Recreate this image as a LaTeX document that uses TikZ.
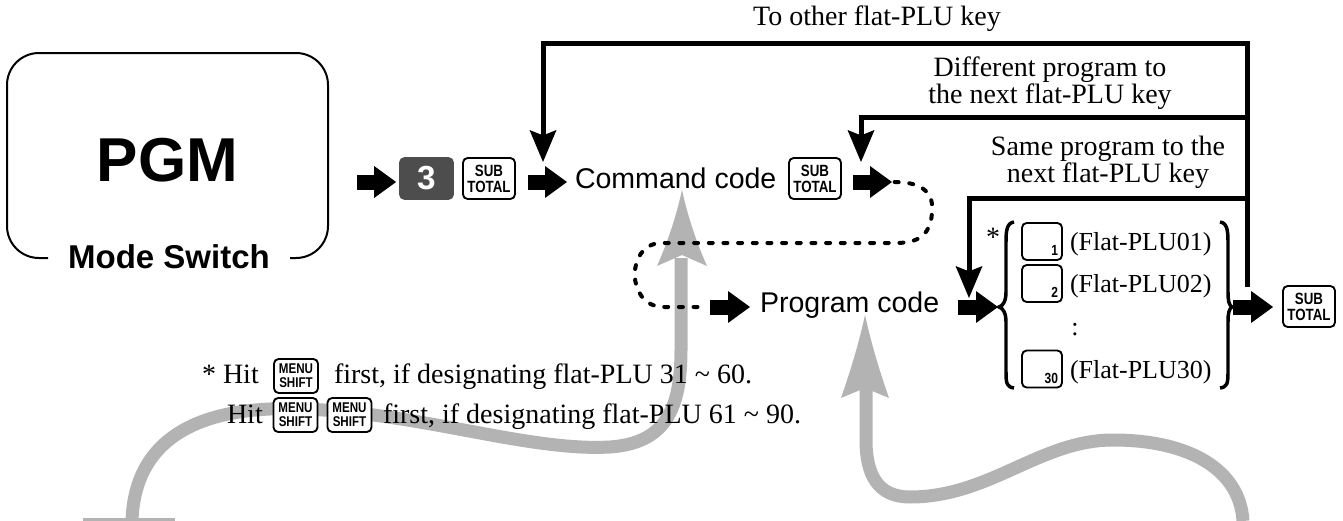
\documentclass[tikz,border=0pt]{standalone}
\usepackage{fontspec}
\setmainfont{Liberation Serif}
\setsansfont{Liberation Sans}
\newfontfamily\keyfont{Liberation Sans}[FakeStretch=0.82]
\usetikzlibrary{arrows.meta}
\definecolor{curvegray}{RGB}{179,179,179}
\definecolor{keydark}{RGB}{77,77,77}
\begin{document}
\begin{tikzpicture}[x=0.75pt,y=-0.75pt,
  txt/.style={inner sep=0pt, outer sep=0pt},
  serif/.style={txt, font=\rmfamily\fontsize{21pt}{25pt}\selectfont},
  plu/.style={txt, font=\rmfamily\fontsize{19.5pt}{23pt}\selectfont},
  arial/.style={txt, font=\sffamily\fontsize{21.4pt}{25pt}\selectfont},
  keybox/.style={draw, line width=1.4pt, rounded corners=3.5pt, fill=white, inner sep=0pt, align=center},
  subkey/.style={keybox, minimum width=39pt, minimum height=30.75pt, font=\keyfont\bfseries\fontsize{12.2pt}{12pt}\selectfont},
  menukey/.style={keybox, minimum width=33pt, minimum height=25.5pt, font=\keyfont\bfseries\fontsize{10.6pt}{10.5pt}\selectfont},
  plukey/.style={keybox, minimum width=30pt, minimum height=27.75pt},
  digit/.style={txt, font=\keyfont\bfseries\fontsize{11pt}{11pt}\selectfont},
  blk/.style={line width=11.25pt, -{Triangle[length=16.5pt,width=24pt,line width=0pt]}},
  conn/.style={line width=3.75pt, -{Stealth[length=24pt,width=20.25pt,inset=4pt,line width=0pt]}},
  dsh/.style={line width=3pt, line cap=round, dash pattern=on 3pt off 8pt},
  graycurve/.style={line width=9.75pt, draw=curvegray},
  bracestyle/.style={line width=2.6pt}
]
\useasboundingbox (0,0) rectangle (1343,521);

% gray callout curves (behind everything)
\draw[graycurve] (132,521) .. controls (134,452) and (180,413) .. (270,409) .. controls (400,405) and (520,452) .. (610,447) .. controls (665,443) and (681,410) .. (681,350) -- (681,258);
\fill[curvegray] (682,190) .. controls (689,222) and (699,248) .. (707,266) -- (682,255) -- (657,266) .. controls (665,248) and (675,222) .. (682,190) -- cycle;
\draw[graycurve] (1243,521) .. controls (1240,470) and (1190,440) .. (1113,440) .. controls (1040,440) and (990,497) .. (910,497) .. controls (878,497) and (866,475) .. (866,440) -- (866,388);
\fill[curvegray] (865,315) .. controls (872,347) and (881,375) .. (889,398) -- (865,388) -- (841,398) .. controls (849,375) and (858,347) .. (865,315) -- cycle;
\fill[curvegray] (83,518) rectangle (175,521);

% mode switch
\draw[line width=1.5pt, rounded corners=24pt] (48,258) -- (7,258) -- (7,53) -- (328,53) -- (328,258) -- (290,258);
\node[txt, font=\sffamily\bfseries\fontsize{46.5pt}{50pt}\selectfont] (pgm) at (167.5,160) {PGM};
\node[txt, font=\sffamily\bfseries\fontsize{24.75pt}{28pt}\selectfont] (modesw) at (169,257) {Mode Switch};

% row 1
\node[subkey, fill=keydark, draw=keydark, text=white, font=\sffamily\bfseries\fontsize{25pt}{25pt}\selectfont, minimum width=39.75pt] (k3) at (426.5,178.5) {3};
\node[subkey] (sub1) at (489,178.5) {SUB\\TOTAL};
\node[arial, anchor=base west] (cmd) at (575,188) {Command code};
\node[subkey] (sub2) at (815,178.5) {SUB\\TOTAL};

\coordinate (a1s) at (357,182);
\draw[blk, shorten >=2.25pt] (a1s) -- (k3.west |- a1s);
\draw[blk, shorten <=9pt, shorten >=6pt] (sub1.east |- a1s) -- (cmd.west |- a1s);
\coordinate (a3e) at (892,182);
\draw[blk, shorten <=8.25pt] (sub2.east |- a1s) -- (a3e);

% dashed loop
\coordinate (aps) at (708,307);
\draw[dsh] ([xshift=2pt]a3e) .. controls (925,182) and (934,195) .. (932,213) .. controls (930,238) and (915,243) .. (895,243) -- (660,243) .. controls (626,245) and (626,305) .. (662,307) -- (aps);

% row 2
\node[arial, anchor=base west] (prog) at (760,312) {Program code};
\draw[blk, shorten <=1.5pt, shorten >=7.5pt] (aps) -- (prog.west |- aps);
\coordinate (lbr) at (999,307);
\draw[blk, shorten <=14pt, shorten >=0.75pt] (prog.east |- lbr) -- (lbr);

\node[plukey] (p1) at (1042,241.5) {};
\node[plukey] (p2) at (1042,283.5) {};
\node[plukey] (p30) at (1042,369) {};
\node[digit, anchor=base east] (d1) at ([xshift=-3.75pt,yshift=3.75pt]p1.south east) {1};
\node[digit, anchor=base east] (d2) at ([xshift=-3.75pt,yshift=3.75pt]p2.south east) {2};
\node[digit, anchor=base east] (d30) at ([xshift=-3.75pt,yshift=3.75pt]p30.south east) {30};
\node[plu, anchor=base west] (f1) at (1070,250) {(Flat-PLU01)};
\node[plu, anchor=base west] (f2) at (1070,292) {(Flat-PLU02)};
\node[plu, anchor=base west] (f30) at (1070,378) {(Flat-PLU30)};
\node[plu] (dots) at (1075,330) {:};
\node[serif, anchor=base] (ast) at (993,246) {*};

\coordinate (rbr) at (1232,307);
\draw[bracestyle] (1014,222) .. controls (1007,223) and (1006,230) .. (1006,242) -- (1006,292) .. controls (1006,301) and (1003,306) .. (lbr) .. controls (1003,308) and (1006,313) .. (1006,322) -- (1006,372) .. controls (1006,384) and (1007,387) .. (1014,388);
\draw[bracestyle] (1220,222) .. controls (1227,223) and (1228,230) .. (1228,242) -- (1228,292) .. controls (1228,301) and (1229,305) .. (rbr) .. controls (1229,309) and (1228,313) .. (1228,322) -- (1228,372) .. controls (1228,384) and (1227,387) .. (1220,388);

\node[subkey] (sub3) at (1309,306.5) {SUB\\TOTAL};
\draw[blk, shorten <=1pt, shorten >=6.75pt] (rbr) -- (sub3.west |- rbr);

% loops
\coordinate (rv) at (1247,287);
\coordinate (tipA) at (543,162);
\coordinate (tipB) at (861,162);
\coordinate (tipC) at (969,298);
\draw[conn] (rv) -- (1247,43) -- (543,43) -- (tipA);
\draw[conn] (1247,117) -- (861,117) -- (tipB);
\draw[conn] (1247,198) -- (969,198) -- (tipC);

\node[serif, anchor=base] (lbl1) at (877,26) {To other flat-PLU key};
\node[serif, anchor=base] (lbl2a) at (1050,76) {Different program to};
\node[serif, anchor=base] (lbl2b) at (1050,103) {the next flat-PLU key};
\node[serif, anchor=base] (lbl3a) at (1108,155) {Same program to the};
\node[serif, anchor=base] (lbl3b) at (1108,182) {next flat-PLU key};

% footnote
\node[serif, anchor=base west] (fn1a) at (202,383) {* Hit};
\node[menukey] (m1) at (296,376) {MENU\\SHIFT};
\node[serif, anchor=base west] (fn1b) at (334,383) {first, if designating flat-PLU 31 \textasciitilde\ 60.};
\node[serif, anchor=base west] (fn2a) at (227,423) {Hit};
\node[menukey] (m2) at (295.5,415) {MENU\\SHIFT};
\node[menukey] (m3) at (349.5,415) {MENU\\SHIFT};
\node[serif, anchor=base west] (fn2b) at (383,423) {first, if designating flat-PLU 61 \textasciitilde\ 90.};
\end{tikzpicture}
\end{document}
